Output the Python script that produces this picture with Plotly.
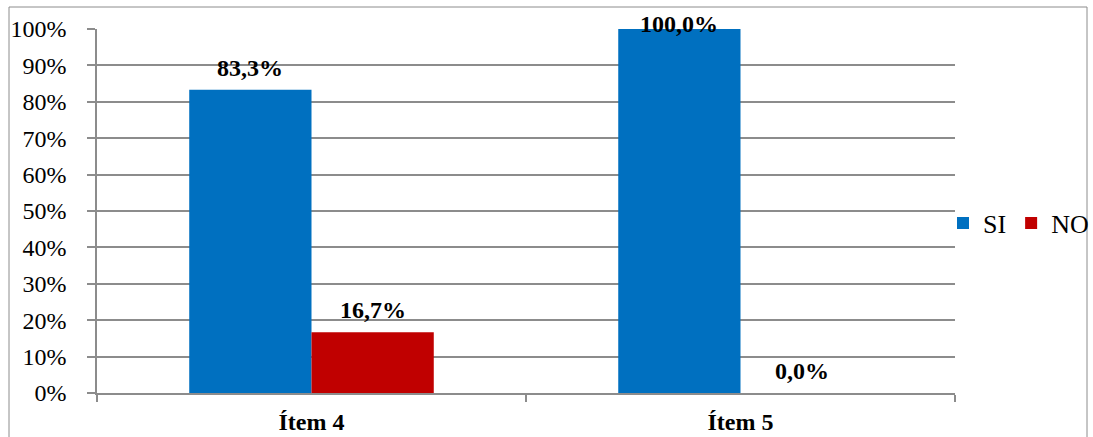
import plotly.graph_objects as go

# Survey results per item
categories = ["Ítem 4", "Ítem 5"]
si_values = [0.833, 1.000]
no_values = [0.167, 0.000]
y_ticks = [0, 0.1, 0.2, 0.3, 0.4, 0.5, 0.6, 0.7, 0.8, 0.9, 1.0]

BLUE = "#0070C0"
RED = "#C00000"
GRID = "#8C8C8C"
FONT = "Liberation Serif"

BARGAP = 0.43
bar_w = (1 - BARGAP) / 2

fig = go.Figure()
fig.add_trace(go.Bar(name="SI", x=categories, y=si_values, marker_color=BLUE,
                     marker_line_width=0))
fig.add_trace(go.Bar(name="NO", x=categories, y=no_values, marker_color=RED,
                     marker_line_width=0))


def fmt(v):
    return f"{v * 100:.1f}%".replace(".", ",")


# value labels above each bar (kept inside the chart frame near the top)
annotations = []
for offset, values in ((-bar_w / 2, si_values), (bar_w / 2, no_values)):
    for i, v in enumerate(values):
        annotations.append(dict(
            x=i + offset, y=v, xref="x", yref="y",
            text=f"<b>{fmt(v)}</b>", showarrow=False,
            yanchor="middle", yshift=22 if v < 0.95 else 5,
            font=dict(family=FONT, size=24, color="black"),
        ))

L, R, T, B = 97, 138, 29, 44
W, H = 1093, 437
pw, ph = W - L - R, H - T - B

fig.update_layout(
    width=W, height=H,
    margin=dict(l=L, r=R, t=T, b=B, autoexpand=False),
    paper_bgcolor="white", plot_bgcolor="white",
    barmode="group", bargap=BARGAP, bargroupgap=0,
    font=dict(family=FONT, size=24, color="black"),
    showlegend=True,
    legend=dict(orientation="h", x=(943 - L) / pw, xanchor="left",
                y=(H - B - 223) / ph, yanchor="middle",
                font=dict(family=FONT, size=26, color="black"),
                itemwidth=30, bgcolor="rgba(0,0,0,0)", traceorder="normal"),
    annotations=annotations,
    shapes=[dict(type="rect", xref="paper", yref="paper",
                 x0=(9 - L) / pw, x1=(1087 - L) / pw,
                 y0=(H - B - 445) / ph, y1=(H - B - 7) / ph,
                 line=dict(color=GRID, width=1), fillcolor="rgba(0,0,0,0)",
                 layer="below")],
)

fig.update_xaxes(
    showline=True, linecolor=GRID, linewidth=1.5,
    ticks="outside", tickson="boundaries", ticklen=7, tickcolor=GRID, tickwidth=1.5,
    tickfont=dict(family=FONT, size=24, color="black"),
    tickprefix="<b>", ticksuffix="</b>", ticklabelstandoff=6,
    showgrid=False, zeroline=False,
)
fig.update_yaxes(
    range=[0, 1], tickvals=y_ticks, tickformat=".0%",
    showline=True, linecolor=GRID, linewidth=1.5,
    ticks="outside", ticklen=8, tickcolor=GRID, tickwidth=1.5,
    showgrid=True, gridcolor=GRID, gridwidth=1.5,
    tickfont=dict(family=FONT, size=24, color="black"),
    ticklabelstandoff=16, zeroline=False,
)

fig.write_html("out.html")
